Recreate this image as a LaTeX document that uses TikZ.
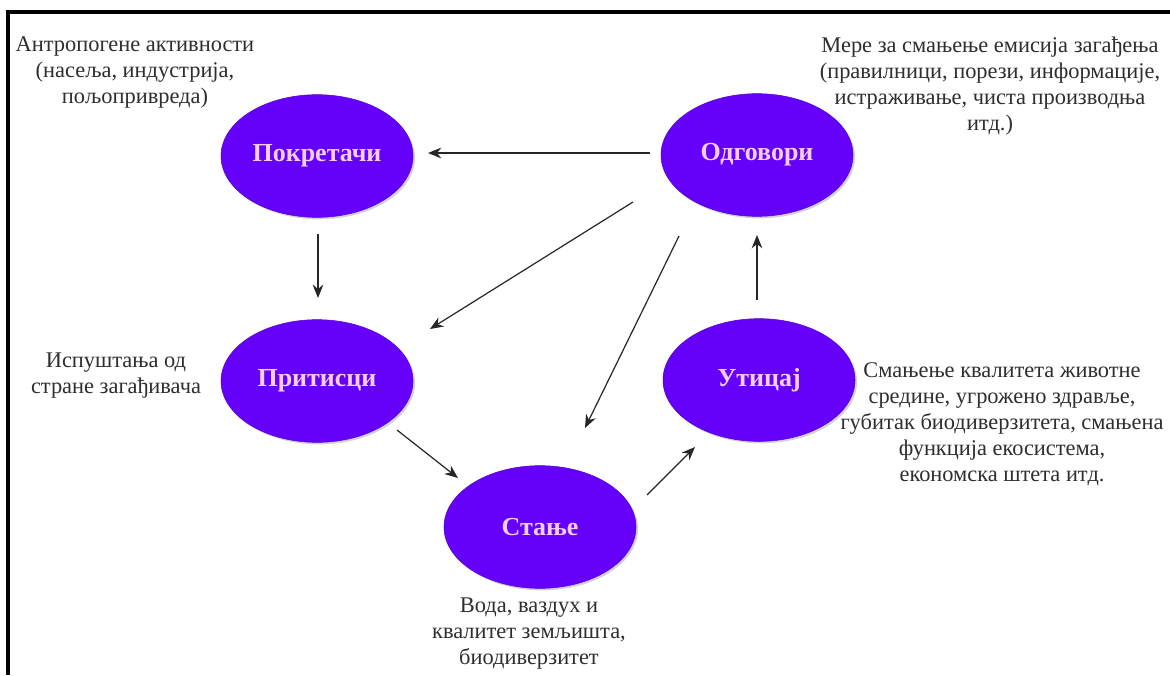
\documentclass[tikz,border=0pt]{standalone}
\usepackage{fontspec}
\setmainfont{Liberation Serif}
\usetikzlibrary{shapes.geometric,arrows.meta,shadows,calc}
\definecolor{nodefill}{HTML}{6500FA}
\definecolor{nodetext}{HTML}{F4CDF2}
\definecolor{notetext}{HTML}{2E2E2E}
\tikzset{
  stage/.style={ellipse, fill=nodefill, draw=nodefill!85!black, line width=0.4pt,
    minimum width=144pt, minimum height=92pt, inner sep=0pt,
    text=nodetext, font=\fontsize{19.5}{22}\selectfont\bfseries,
    drop shadow={shadow xshift=1.5pt, shadow yshift=-1.5pt, fill=black, opacity=0.18}},
  note/.style={align=center, text=notetext, inner sep=0pt,
    font=\fontsize{16.8}{19.5}\selectfont},
  arr/.style={-{Stealth[length=10pt,width=8pt]}, line width=0.9pt, draw=black!85},
  frame/.style={line width=2.6pt, draw=black}
}
\begin{document}
\begin{tikzpicture}[x=0.75pt,y=-0.75pt]
\useasboundingbox (0,0) rectangle (1170,675);
\fill[white] (0,0) rectangle (1170,675);
\draw[frame] (8,675) -- (8,12) -- (1170,12);

\node[stage] (pok) at (317,156) {Покретачи};
\node[stage] (odg) at (757,155) {Одговори};
\node[stage] (pri) at (317,381) {Притисци};
\node[stage] (uti) at (759,380) {Утицај};
\node[stage] (sta) at (540,527) {Стање};

\node[note] (n1) at (135,72) {Антропогене активности\\(насеља, индустрија,\\пољопривреда)};
\node[note] (n2) at (990,86) {Мере за смањење емисија загађења\\(правилници, порези, информације,\\истраживање, чиста производња\\итд.)};
\node[note] (n3) at (116,376) {Испуштања од\\стране загађивача};
\node[note] (n4) at (1002,424) {Смањење квалитета животне\\средине, угрожено здравље,\\губитак биодиверзитета, смањена\\функција екосистема,\\економска штета итд.};
\node[note] (n5) at (529,634) {Вода, ваздух и\\квалитет земљишта,\\биодиверзитет};

\draw[arr] ($(odg)+(-107,-2)$) -- ($(pok)+(111,-3)$);
\draw[arr] ($(pok)+(1,78)$) -- ($(pri)+(1,-83)$);
\draw[arr] ($(odg)+(-124,47)$) -- ($(pri)+(113,-52)$);
\draw[arr] ($(odg)+(-78,81)$) -- ($(sta)+(45,-99)$);
\draw[arr] ($(pri)+(80,49)$) -- ($(sta)+(-82,-49)$);
\draw[arr] ($(sta)+(107,-32)$) -- ($(uti)+(-64,67)$);
\draw[arr] ($(uti)+(-2,-80)$) -- ($(odg)+(0,80)$);
\end{tikzpicture}
\end{document}
